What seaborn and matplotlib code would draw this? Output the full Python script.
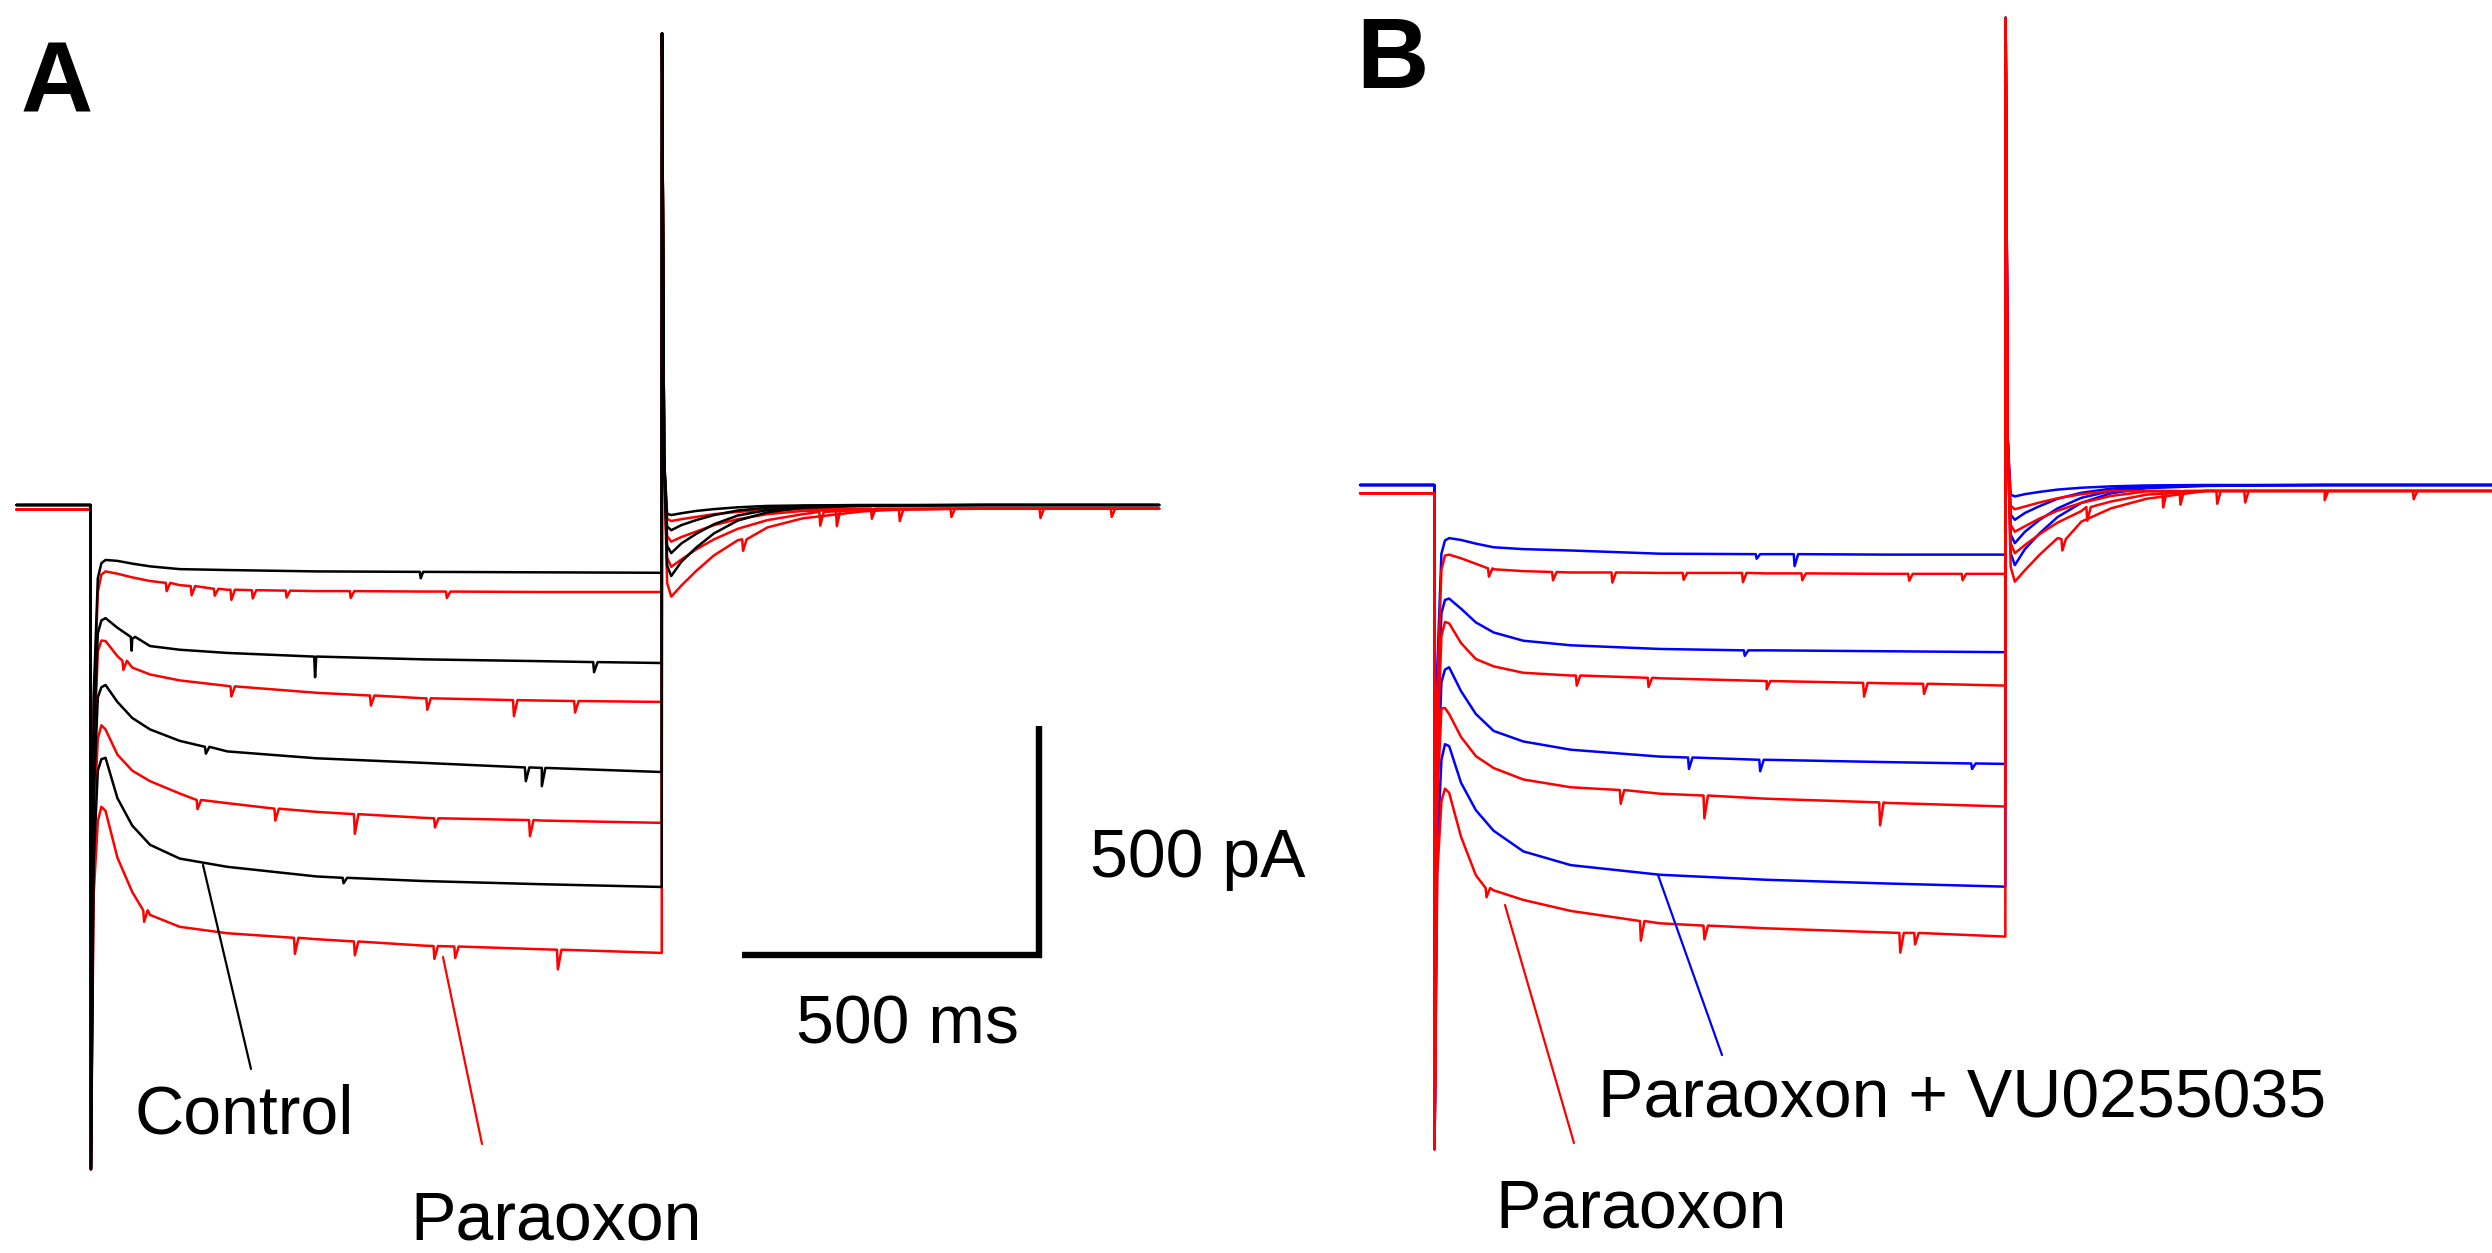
import numpy as np
import pandas as pd
import matplotlib
matplotlib.use("Agg")
import matplotlib.pyplot as plt
from matplotlib.lines import Line2D
import seaborn as sns

# ---- data (ms / pA) -------------------------------------------------------
pre_t = [-125, 0]
step_t = [0, 0.4, 5, 12, 18, 25, 45, 70, 100, 150, 230, 380, 560, 760, 962]
tail_t = [962.5, 966, 971, 978, 995, 1020, 1050, 1090, 1140, 1200, 1300, 1500, 1800]

# panel A, control (black), 4 voltage steps
a_ctrl_base = [0, 0, 0, 0]
a_ctrl_step = [
    [0, -1450, -420, -160, -127, -120, -122, -128, -134, -140, -142, -145, -146, -147, -148],
    [0, -1450, -520, -280, -252, -247, -268, -292, -308, -316, -323, -331, -337, -341, -345],
    [0, -1450, -640, -420, -398, -393, -430, -465, -490, -515, -538, -553, -563, -574, -583],
    [0, -1450, -780, -580, -555, -552, -640, -700, -742, -772, -790, -811, -821, -828, -834],
]
a_ctrl_tail = [
    [1030, 100, -19, -22, -18, -13, -9, -5, -2, -1, 0, 0, 0],
    [1030, 100, -47, -55, -44, -33, -22, -12, -6, -2, -1, 0, 0],
    [1030, 100, -89, -105, -84, -63, -42, -23, -11, -4, -1, 0, 0],
    [1030, 100, -132, -155, -124, -93, -62, -34, -16, -6, -2, 0, 0],
]
a_ctrl_dips = [
    [(556, -146, 14)],
    [(69, -288, 30), (378, -331, 45), (848, -343, 22)],
    [(194, -528, 15), (733, -573, 30), (760, -574, 40)],
    [(426, -814, 12)],
]

# panel A, paraoxon (red)
a_para_base = [-10, -10, -10, -10]
a_para_step = [
    [-10, -1450, -450, -190, -152, -145, -150, -158, -166, -175, -185, -188, -189, -190, -190],
    [-10, -1450, -560, -320, -296, -297, -330, -355, -370, -383, -395, -410, -422, -427, -430],
    [-10, -1450, -700, -510, -481, -490, -545, -580, -603, -630, -651, -670, -683, -689, -694],
    [-10, -1450, -850, -690, -659, -668, -770, -845, -895, -921, -935, -948, -962, -970, -978],
]
a_para_tail = [
    [1030, 100, -30, -35, -31, -26, -20, -15, -11, -9, -8, -8, -8],
    [1030, 100, -68, -80, -70, -58, -44, -31, -20, -13, -9, -8, -8],
    [1030, 100, -115, -135, -119, -97, -75, -52, -33, -20, -11, -8, -8],
    [1030, 100, -170, -200, -176, -144, -110, -77, -49, -29, -14, -8, -8],
]
a_para_dips = [
    [(128, -170, 18), (170, -177, 20), (209, -183, 15), (237, -185, 22), (273, -186, 18),
     (330, -187, 15), (438, -188, 15), (600, -189, 14), (1316, -8, 22), (1720, -8, 18)],
    [(55, -340, 20), (237, -396, 22), (472, -416, 22), (567, -422, 25), (713, -426, 35),
     (816, -428, 25), (1257, -11, 35), (1600, -8, 20)],
    [(180, -644, 20), (311, -663, 26), (445, -675, 43), (580, -684, 20), (740, -688, 35),
     (1229, -15, 30), (1450, -8, 18)],
    [(90, -885, 25), (344, -945, 35), (445, -953, 30), (579, -963, 28), (614, -964, 25),
     (787, -971, 43), (1099, -75, 25), (1363, -10, 25)],
]

# panel B, paraoxon + VU0255035 (blue)
b_vu_base = [0, 0, 0, 0]
b_vu_step = [
    [0, -1450, -400, -150, -121, -116, -120, -128, -136, -140, -143, -150, -151, -152, -152],
    [0, -1450, -520, -280, -251, -248, -270, -300, -322, -340, -350, -358, -361, -363, -365],
    [0, -1450, -660, -430, -403, -398, -450, -500, -537, -560, -578, -593, -600, -605, -609],
    [0, -1450, -800, -600, -566, -570, -650, -710, -755, -800, -830, -851, -862, -870, -877],
]
b_vu_tail = [
    [1020, 100, -21, -25, -20, -15, -10, -6, -3, -1, 0, 0, 0],
    [1020, 100, -65, -76, -61, -46, -30, -17, -8, -3, -1, 0, 0],
    [1020, 100, -108, -127, -102, -76, -51, -28, -13, -5, -1, 0, 0],
    [1020, 100, -149, -175, -140, -105, -70, -39, -18, -7, -2, 0, 0],
]
b_vu_dips = [
    [(543, -151, 10), (607, -151, 26)],
    [(523, -361, 12)],
    [(429, -595, 25), (549, -600, 25), (906, -608, 12)],
    [],
]

# panel B, paraoxon (red)
b_para_base = [-18, -18, -18, -18]
b_para_step = [
    [-18, -1450, -450, -185, -154, -152, -160, -172, -184, -188, -191, -192, -193, -194, -194],
    [-18, -1450, -580, -330, -299, -302, -345, -380, -396, -410, -416, -422, -428, -433, -438],
    [-18, -1450, -690, -488, -487, -500, -550, -592, -618, -643, -660, -674, -685, -694, -702],
    [-18, -1450, -850, -690, -663, -672, -768, -852, -885, -906, -930, -957, -968, -977, -986],
]
b_para_tail = [
    [1020, 100, -45, -53, -47, -38, -29, -20, -13, -13, -13, -13, -13],
    [1020, 100, -87, -102, -90, -73, -56, -39, -24, -14, -13, -13, -13],
    [1020, 100, -127, -149, -131, -107, -82, -57, -36, -21, -13, -13, -13],
    [1020, 100, -179, -211, -186, -152, -116, -80, -51, -30, -13, -13, -13],
]
b_para_dips = [
    [(92, -182, 18), (200, -190, 18), (300, -191, 22), (420, -192, 15), (520, -192, 20),
     (620, -193, 15), (800, -194, 15), (890, -194, 14), (1257, -13, 30), (1650, -13, 18)],
    [(240, -416, 22), (361, -421, 20), (560, -428, 18), (724, -432, 30), (825, -434, 22),
     (1228, -14, 35), (1500, -13, 20)],
    [(314, -666, 30), (455, -678, 50), (751, -693, 50), (1100, -48, 30), (1366, -13, 25)],
    [(88, -880, 20), (348, -952, 43), (455, -962, 30), (785, -978, 43), (810, -978, 25),
     (1058, -118, 25), (1319, -13, 28)],
]

scale_ms = 500
scale_pa = 500

# ---- layout ---------------------------------------------------------------
W, H = 2492, 1253
PX_PER_MS = 0.5936
PX_PER_PA = 0.458
RED, BLUE, BLACK = "#ff0000", "#0000ff", "#000000"
FS = 49


def sweeps(cond, base, step, tail, dips):
    rows = []
    for i in range(len(step)):
        t = list(pre_t) + list(step_t) + list(tail_t)
        v = [base[i], base[i]] + list(step[i]) + list(tail[i])
        for td, b, d in dips[i]:
            t += [td - 1.5, td, td + 6]
            v += [b, b - d, b]
        order = np.argsort(np.array(t), kind="stable")
        for k in order:
            rows.append((cond, i, t[k], v[k]))
    return pd.DataFrame(rows, columns=["cond", "sweep", "t", "pA"])


def px_limits(x0_px, x_step_px, base_px):
    # axes covers half the figure; convert pixel frame into data limits
    xl = ((x0_px - x_step_px) / PX_PER_MS, (x0_px + W / 2 - x_step_px) / PX_PER_MS)
    yl = ((base_px - H) / PX_PER_PA, base_px / PX_PER_PA)
    return xl, yl


sns.set_theme(style="white")
plt.rcParams["font.family"] = ["Liberation Sans", "DejaVu Sans"]

fig = plt.figure(figsize=(W / 100, H / 100), dpi=100)
ax_a = fig.add_axes([0, 0, 0.5, 1])
ax_b = fig.add_axes([0.5, 0, 0.5, 1])

df_a = pd.concat([sweeps("Paraoxon", a_para_base, a_para_step, a_para_tail, a_para_dips),
                  sweeps("Control", a_ctrl_base, a_ctrl_step, a_ctrl_tail, a_ctrl_dips)])
df_b = pd.concat([sweeps("Paraoxon + VU0255035", b_vu_base, b_vu_step, b_vu_tail, b_vu_dips),
                  sweeps("Paraoxon", b_para_base, b_para_step, b_para_tail, b_para_dips)])

sns.lineplot(data=df_a, x="t", y="pA", hue="cond", units="sweep", estimator=None,
             sort=False, hue_order=["Paraoxon", "Control"],
             palette={"Paraoxon": RED, "Control": BLACK}, linewidth=1.8,
             legend=False, ax=ax_a)
sns.lineplot(data=df_b, x="t", y="pA", hue="cond", units="sweep", estimator=None,
             sort=False, hue_order=["Paraoxon + VU0255035", "Paraoxon"],
             palette={"Paraoxon + VU0255035": BLUE, "Paraoxon": RED}, linewidth=1.8,
             legend=False, ax=ax_b)

xl, yl = px_limits(0, 90.7, 505)
ax_a.set_xlim(*xl)
ax_a.set_ylim(*yl)
xl, yl = px_limits(W / 2, 1434.3, 485)
ax_b.set_xlim(*xl)
ax_b.set_ylim(*yl)
for ax in (ax_a, ax_b):
    ax.set_axis_off()

# scale bar (panel A)
corner_t = (1039 - 90.7) / PX_PER_MS
corner_pa = (505 - 955) / PX_PER_PA
ax_a.plot([corner_t - scale_ms, corner_t, corner_t],
          [corner_pa, corner_pa, corner_pa + scale_pa],
          color=BLACK, lw=4.6, solid_joinstyle="miter", solid_capstyle="butt")


def ftext(x, y, s, **kw):
    fig.text(x / W, 1 - y / H, s, va="baseline", ha="left", color=BLACK, **kw)


def fline(x0, y0, x1, y1, color):
    fig.add_artist(Line2D([x0 / W, x1 / W], [1 - y0 / H, 1 - y1 / H],
                          transform=fig.transFigure, color=color, lw=1.6))


ftext(21, 113, "A", fontsize=72, fontweight="bold")
ftext(1356, 88, "B", fontsize=72, fontweight="bold")
ftext(1090, 877, f"{scale_pa} pA", fontsize=FS)
ftext(796, 1043, f"{scale_ms} ms", fontsize=FS)
ftext(134, 1133, "Control", fontsize=FS)
ftext(410, 1240, "Paraoxon", fontsize=FS)
ftext(1598, 1117, "Paraoxon + VU0255035", fontsize=FS)
ftext(1495, 1228, "Paraoxon", fontsize=FS)

fline(203, 865, 251, 1069, BLACK)
fline(443, 957, 482, 1144, RED)
fline(1658, 875, 1722, 1055, BLUE)
fline(1505, 905, 1574, 1143, RED)

fig.savefig("out.png", dpi=100, facecolor="white")
